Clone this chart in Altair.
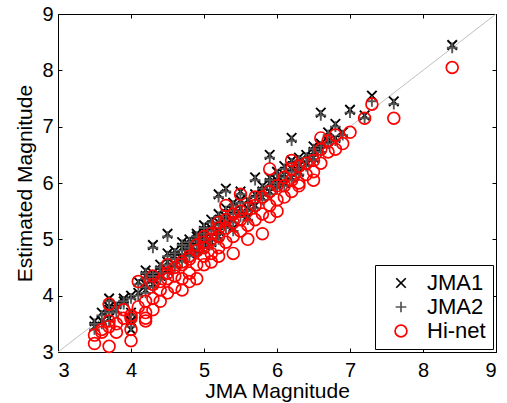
import altair as alt
import pandas as pd

# JMA magnitude of each event and the three estimates
jma_mag = [3.5, 3.5, 3.6, 3.6, 3.7, 3.7, 3.7, 3.7, 3.8, 3.8, 3.9, 3.9,
           4.0, 4.0, 4.0, 4.0, 4.1, 4.1, 4.2, 4.2, 4.2, 4.2, 4.3, 4.3, 4.3, 4.3,
           4.4, 4.4, 4.4, 4.5, 4.5, 4.5, 4.5, 4.6, 4.6, 4.6, 4.7, 4.7, 4.7, 4.7,
           4.8, 4.8, 4.8, 4.8, 4.9, 4.9, 4.9, 4.9, 5.0, 5.0, 5.0, 5.0, 5.0,
           5.1, 5.1, 5.1, 5.1, 5.2, 5.2, 5.2, 5.2, 5.2, 5.3, 5.3, 5.3, 5.3,
           5.4, 5.4, 5.4, 5.4, 5.5, 5.5, 5.5, 5.5, 5.6, 5.6, 5.6, 5.7, 5.7, 5.7,
           5.8, 5.8, 5.8, 5.9, 5.9, 5.9, 5.9, 6.0, 6.0, 6.0, 6.1, 6.1, 6.1,
           6.2, 6.2, 6.2, 6.2, 6.3, 6.3, 6.3, 6.4, 6.4, 6.5, 6.5, 6.5,
           6.6, 6.6, 6.6, 6.7, 6.7, 6.8, 6.8, 6.9, 7.0, 7.2, 7.3, 7.6, 8.4]

jma1 = [3.55, 3.45, 3.55, 3.70, 3.95, 3.80, 3.75, 3.60, 3.85, 3.75, 3.90, 3.95,
        3.40, 3.70, 4.00, 3.55, 4.25, 4.05, 4.45, 4.35, 4.20, 4.10, 4.90, 4.40, 4.30, 4.20,
        4.45, 4.35, 4.55, 5.10, 4.60, 4.45, 4.75, 4.70, 4.55, 4.80, 4.85, 4.70, 4.65, 4.95,
        4.90, 4.75, 5.00, 4.85, 5.05, 4.95, 4.80, 5.10, 5.15, 5.00, 4.90, 5.25, 5.05,
        5.20, 5.05, 5.35, 4.95, 5.80, 5.30, 5.15, 5.45, 5.05, 5.90, 5.40, 5.25, 5.55,
        5.50, 5.35, 5.65, 5.20, 5.85, 5.55, 5.45, 5.70, 5.70, 5.55, 5.40, 6.10, 5.80, 5.60,
        5.95, 5.75, 5.85, 6.50, 6.10, 5.85, 6.00, 6.20, 5.95, 6.05, 6.15, 6.30, 6.00,
        6.80, 6.25, 6.40, 6.10, 6.45, 6.30, 6.20, 6.50, 6.35, 6.65, 6.45, 6.55,
        7.25, 6.70, 6.60, 6.90, 6.75, 7.05, 6.80, 6.90, 7.30, 7.20, 7.55, 7.45, 8.45]

jma2 = [3.50, 3.40, 3.50, 3.65, 3.90, 3.75, 3.70, 3.55, 3.80, 3.70, 3.85, 3.90,
        3.45, 3.65, 3.95, 3.55, 4.20, 4.00, 4.40, 4.30, 4.15, 4.05, 4.85, 4.35, 4.25, 4.15,
        4.40, 4.30, 4.50, 5.05, 4.55, 4.40, 4.70, 4.65, 4.50, 4.75, 4.80, 4.65, 4.60, 4.90,
        4.85, 4.70, 4.95, 4.80, 5.00, 4.90, 4.75, 5.05, 5.10, 4.95, 4.85, 5.20, 5.00,
        5.15, 5.00, 5.30, 4.90, 5.75, 5.25, 5.10, 5.40, 5.00, 5.85, 5.35, 5.20, 5.50,
        5.45, 5.30, 5.60, 5.15, 5.80, 5.50, 5.40, 5.65, 5.65, 5.50, 5.35, 6.05, 5.75, 5.55,
        5.90, 5.70, 5.80, 6.45, 6.05, 5.80, 5.95, 6.15, 5.90, 6.00, 6.10, 6.25, 5.95,
        6.75, 6.20, 6.35, 6.05, 6.40, 6.25, 6.15, 6.45, 6.30, 6.60, 6.40, 6.50,
        7.20, 6.65, 6.55, 6.85, 6.70, 7.00, 6.75, 6.85, 7.25, 7.15, 7.45, 7.40, 8.40]

hinet = [3.15, 3.30, 3.35, 3.40, 3.45, 3.10, 3.55, 3.85, 3.50, 3.35, 3.60, 3.75,
         3.20, 3.40, 3.60, 3.65, 4.25, 3.80, 3.90, 3.70, 3.60, 3.55, 4.35, 4.20, 3.95, 3.75,
         4.10, 3.90, 4.25, 4.55, 4.30, 4.05, 4.40, 4.35, 4.15, 4.50, 4.55, 4.30, 4.10, 4.60,
         4.65, 4.40, 4.70, 4.25, 4.80, 4.55, 4.30, 4.90, 4.95, 4.70, 4.55, 5.05, 4.85,
         5.00, 4.75, 5.10, 4.60, 5.30, 5.05, 4.85, 5.20, 4.70, 5.60, 5.20, 4.95, 5.35,
         5.30, 5.05, 5.45, 4.75, 5.80, 5.35, 5.15, 5.50, 5.55, 5.25, 5.00, 5.75, 5.60, 5.35,
         5.75, 5.45, 5.10, 6.25, 5.85, 5.60, 5.40, 5.95, 5.70, 5.50, 5.95, 6.10, 5.75,
         6.40, 6.05, 6.25, 5.85, 6.30, 6.00, 5.95, 6.35, 6.15, 6.40, 6.20, 6.05,
         6.80, 6.60, 6.35, 6.75, 6.55, 6.85, 6.60, 6.70, 6.90, 7.15, 7.40, 7.15, 8.05]

series = ["JMA1", "JMA2", "Hi-net"]
tick_values = [3, 4, 5, 6, 7, 8, 9]
diag_x = [3, 9]
diag_y = [3, 9]

rows = []
for name, vals in zip(series, [jma1, jma2, hinet]):
    for x, y in zip(jma_mag, vals):
        rows.append({"jma": x, "est": y, "series": name})
df = pd.DataFrame(rows)
jma_df = df[df["series"] != "Hi-net"]
hi_df = df[df["series"] == "Hi-net"]
diag = pd.DataFrame({"jma": diag_x, "est": diag_y})

FONT = "Liberation Sans"
xs = alt.Scale(domain=[3, 9], nice=False, zero=False)
ys = alt.Scale(domain=[3, 9], nice=False, zero=False)

shape_scale = alt.Scale(domain=series,
                        range=["M-1,-1L1,1M-1,1L1,-1", "M-1,0L1,0M0,-1L0,1", "circle"])
color_scale = alt.Scale(domain=series, range=["#000000", "#555555", "#ff0000"])
size_scale = alt.Scale(domain=series, range=[90, 140, 132])

legend = alt.Legend(title=None, orient="bottom-right", offset=3,
                    strokeColor="black", fillColor="white", padding=7,
                    symbolOffset=8, labelOffset=15, rowPadding=2,
                    symbolStrokeWidth=1.7, labelFont=FONT, labelFontSize=22,
                    labelColor="black", cornerRadius=0)

def enc_series():
    return dict(
        color=alt.Color("series:N", scale=color_scale, legend=legend),
        shape=alt.Shape("series:N", scale=shape_scale, legend=legend),
        size=alt.Size("series:N", scale=size_scale, legend=legend),
    )

line = alt.Chart(diag).mark_line(color="#c0c0c0", strokeWidth=1).encode(
    x=alt.X("jma:Q", scale=xs, axis=alt.Axis(values=tick_values, title="JMA Magnitude",
            ticks=False, domain=False, grid=False, labelPadding=8, titlePadding=0, format="d")),
    y=alt.Y("est:Q", scale=ys, axis=alt.Axis(values=tick_values, title="Estimated Magnitude",
            ticks=False, domain=False, grid=False, labelPadding=5, titlePadding=6, format="d")),
)

p_jma = alt.Chart(jma_df).mark_point(filled=False, strokeWidth=1.9, opacity=1).encode(
    x=alt.X("jma:Q", scale=xs, axis=alt.Axis(orient="top", offset=-4, values=tick_values,
            labels=False, ticks=True, tickSize=4, domain=False, grid=False, title=None)),
    y=alt.Y("est:Q", scale=ys, axis=alt.Axis(orient="right", offset=-4, values=tick_values,
            labels=False, ticks=True, tickSize=4, domain=False, grid=False, title=None)),
    **enc_series(),
)

p_hi = alt.Chart(hi_df).mark_point(filled=False, strokeWidth=1.7, opacity=1).encode(
    x=alt.X("jma:Q", scale=xs, axis=alt.Axis(orient="bottom", offset=-4, values=tick_values,
            labels=False, ticks=True, tickSize=4, domain=False, grid=False, title=None)),
    y=alt.Y("est:Q", scale=ys, axis=alt.Axis(orient="left", offset=-4, values=tick_values,
            labels=False, ticks=True, tickSize=4, domain=False, grid=False, title=None)),
    **enc_series(),
)

chart = alt.layer(line, p_jma, p_hi).resolve_axis(
    x="independent", y="independent"
).properties(
    width=438, height=338,
    padding={"left": 58, "top": 14, "right": 11, "bottom": 51},
    autosize=alt.AutoSizeParams(type="none"),
    background="white",
).configure_view(
    stroke="black", strokeWidth=1
).configure_axis(
    labelFont=FONT, labelFontSize=20, titleFont=FONT, titleFontSize=21,
    titleFontWeight="normal", labelColor="black", titleColor="black",
    tickColor="black", tickWidth=1,
)

chart.save("out.html", embed_options={"renderer": "svg", "actions": False})
